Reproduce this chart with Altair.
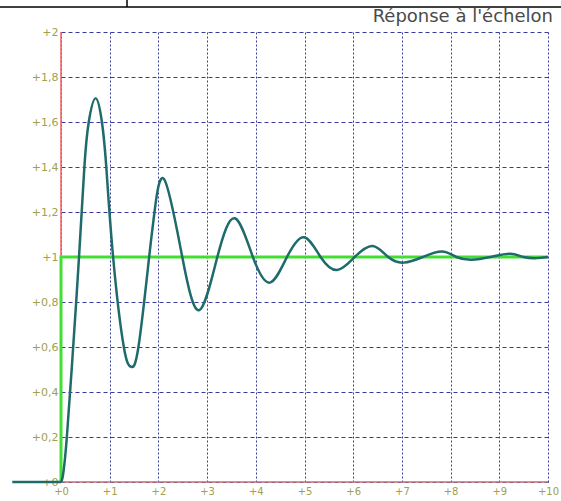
import altair as alt
import pandas as pd

# ---- data ----
pre_t = [-1.0, 0.0]
pre_y = [0.0, 0.0]
resp_t = [0.0, 0.04, 0.12, 0.25, 0.37, 0.48, 0.57, 0.71, 0.84, 0.93, 1.07,
          1.29, 1.44, 1.59, 1.81, 1.92, 2.12, 2.49, 2.84, 3.21, 3.57, 3.94, 4.29, 4.64, 4.99,
          5.33, 5.67, 6.03, 6.40, 6.72, 7.04, 7.43, 7.82, 8.12, 8.43, 8.82, 9.22, 9.50, 9.77, 10.0]
resp_y = [0.0, 0.03, 0.2, 0.6, 1.0, 1.4, 1.6, 1.705, 1.6, 1.4, 1.0,
          0.6, 0.512, 0.6, 1.0, 1.2, 1.345, 1.0, 0.764, 1.0, 1.172, 1.0, 0.886, 1.0, 1.088,
          1.0, 0.942, 1.0, 1.049, 1.0, 0.975, 1.0, 1.024, 1.0, 0.988, 1.0, 1.014, 1.0, 0.995, 1.0]
step_t = [0, 0, 10]
step_y = [0, 1, 1]
x_ticks = [0, 1, 2, 3, 4, 5, 6, 7, 8, 9, 10]
y_ticks = [0, 0.2, 0.4, 0.6, 0.8, 1.0, 1.2, 1.4, 1.6, 1.8, 2.0]
title_text = "Réponse à l'échelon"

pre = pd.DataFrame({"t": pre_t, "y": pre_y})
resp = pd.DataFrame({"t": resp_t, "y": resp_y})
step = pd.DataFrame({"t": step_t, "y": step_y, "o": list(range(len(step_t)))})
vaxis = pd.DataFrame({"t": [0], "y": [0], "y2": [2]})
haxis = pd.DataFrame({"t": [0], "t2": [10], "y": [0]})
ttl = pd.DataFrame({"label": [title_text]})

FONT = "DejaVu Sans"
LABEL_COLOR = "#a0a050"
GRID_COLOR = "#3a3aa0"
CURVE = "#1f6b6b"

xscale = alt.Scale(domain=[0, 10], nice=False, zero=False)
yscale = alt.Scale(domain=[0, 2], nice=False, zero=False)

xaxis = alt.Axis(values=x_ticks, labelExpr="'+' + datum.value", grid=True,
                 gridDash=[2, 2], gridColor=GRID_COLOR, gridWidth=1, gridOpacity=1,
                 domain=False, ticks=False, tickSize=0, labelPadding=4,
                 labelFlush=False, labelOverlap=False,
                 labelColor=LABEL_COLOR, labelFont=FONT, labelFontSize=10, title=None)
yaxis = alt.Axis(values=y_ticks,
                 labelExpr="'+' + replace(format(datum.value, '.1~f'), '.', ',')",
                 grid=True, gridDash=[4, 3], gridColor=GRID_COLOR, gridWidth=1, gridOpacity=1,
                 domain=False, ticks=False, tickSize=0, labelPadding=3,
                 labelFlush=False, labelOverlap=False,
                 labelColor=LABEL_COLOR, labelFont=FONT, labelFontSize=11, title=None)

grid = alt.Chart(resp).mark_line(opacity=0).encode(
    x=alt.X("t:Q", scale=xscale, axis=xaxis),
    y=alt.Y("y:Q", scale=yscale, axis=yaxis),
)

red_v = alt.Chart(vaxis).mark_rule(color="#f06060", strokeWidth=1.5).encode(
    x=alt.X("t:Q", scale=xscale), y=alt.Y("y:Q", scale=yscale), y2="y2:Q")
red_h = alt.Chart(haxis).mark_rule(color="#c07070", strokeWidth=1.5).encode(
    x=alt.X("t:Q", scale=xscale), x2="t2:Q", y=alt.Y("y:Q", scale=yscale))

step_line = alt.Chart(step).mark_line(color="#44dd33", strokeWidth=3).encode(
    x=alt.X("t:Q", scale=xscale), y=alt.Y("y:Q", scale=yscale), order="o:Q")

pre_line = alt.Chart(pre).mark_line(color=CURVE, strokeWidth=2.5, clip=False).encode(
    x=alt.X("t:Q", scale=xscale), y=alt.Y("y:Q", scale=yscale))
resp_line = alt.Chart(resp).mark_line(color=CURVE, strokeWidth=2.5,
                                      interpolate="natural", clip=False).encode(
    x=alt.X("t:Q", scale=xscale), y=alt.Y("y:Q", scale=yscale))

top_border = alt.Chart(ttl).mark_rule(color="#000000", strokeWidth=1.5).encode(
    x=alt.value(-61), x2=alt.value(500), y=alt.value(-25))
top_tick = alt.Chart(ttl).mark_rule(color="#000000", strokeWidth=1.5).encode(
    x=alt.value(66), y=alt.value(-32), y2=alt.value(-25))
title_mark = alt.Chart(ttl).mark_text(align="right", baseline="alphabetic", font=FONT,
                                      fontSize=18, color="#4a4a4a").encode(
    text="label:N", x=alt.value(492), y=alt.value(-10))

chart = alt.layer(grid, red_h, red_v, step_line, pre_line, resp_line,
                  top_border, top_tick, title_mark).properties(
    width=487, height=450,
    padding={"left": 61, "top": 32, "right": 13, "bottom": 19},
    autosize=alt.AutoSizeParams(type="none"),
    background="white",
).configure_view(stroke=None)

chart.save("out.html", embed_options={"renderer": "svg", "actions": False})
